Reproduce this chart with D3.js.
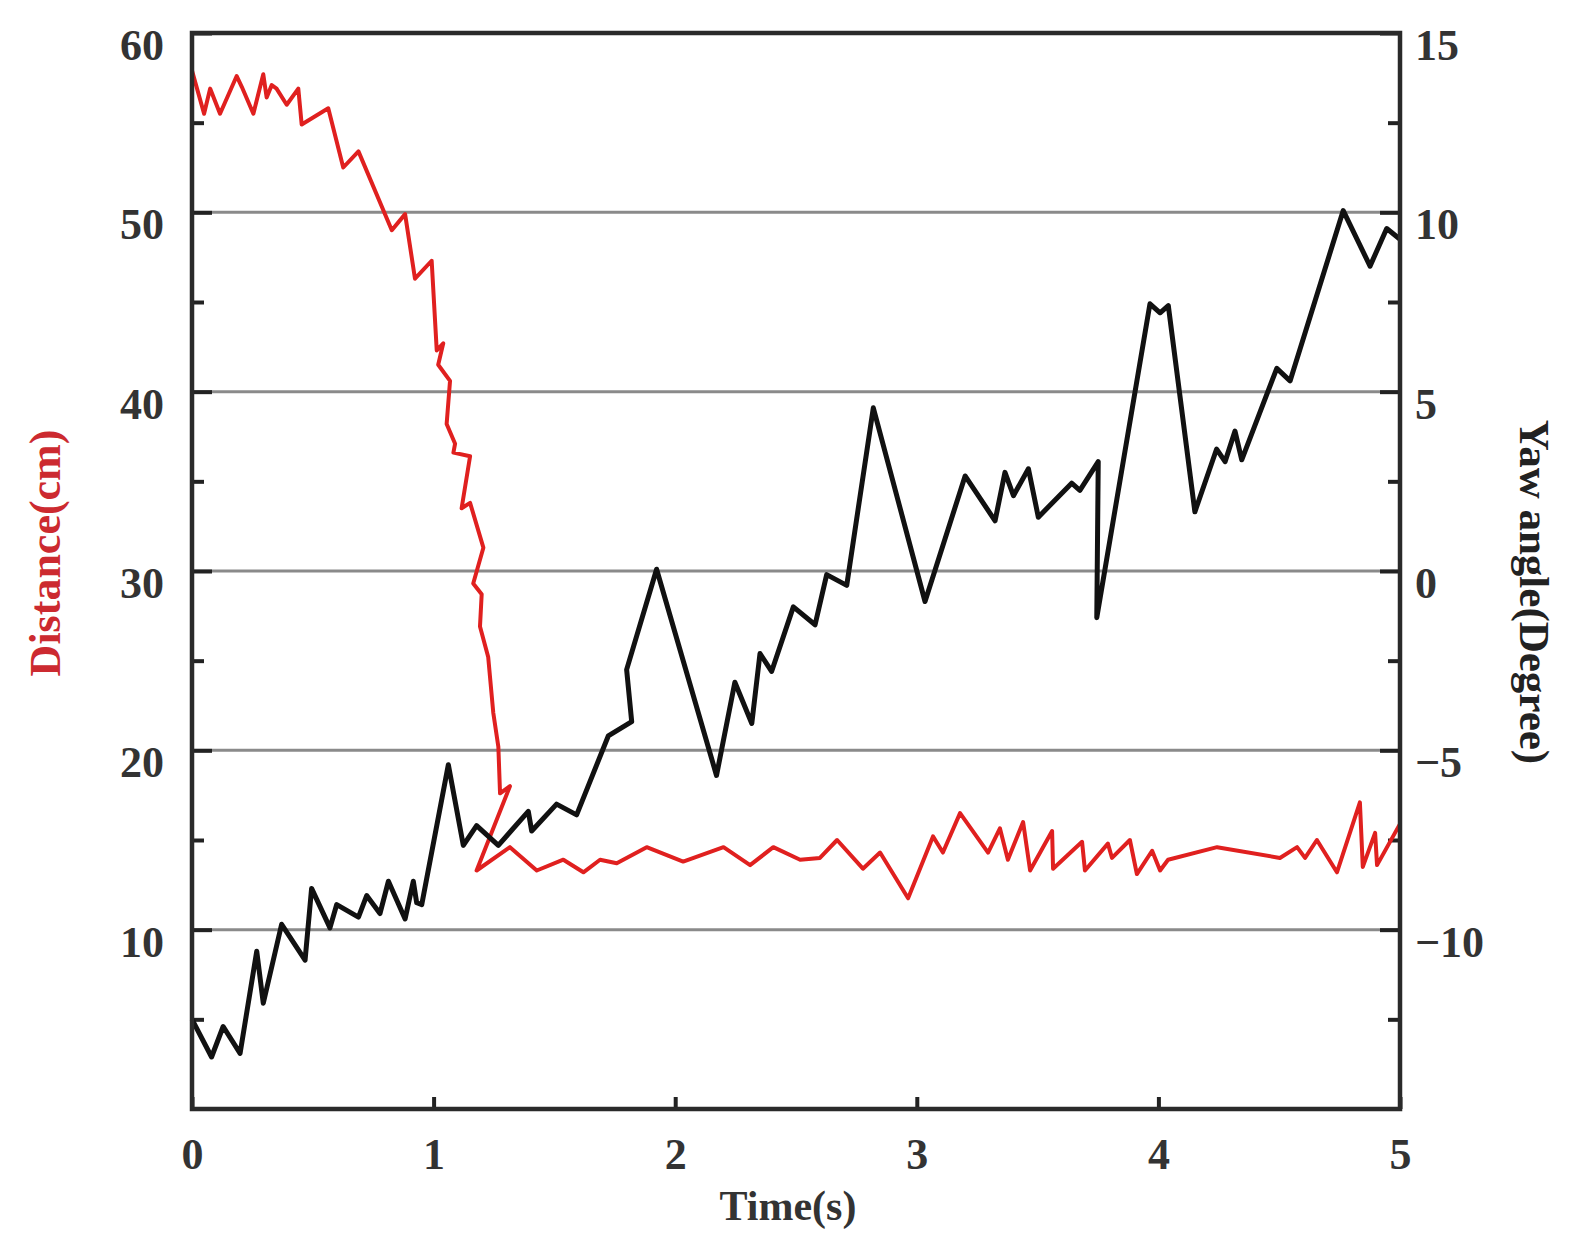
<!DOCTYPE html>
<html>
<head>
<meta charset="utf-8">
<title>Distance and yaw angle</title>
<script src="https://d3js.org/d3.v7.min.js"></script>
<style>
  body { margin: 0; background: #fff; }
  text { font-family: "Liberation Serif", "Times New Roman", serif; font-weight: bold; }
</style>
</head>
<body>
<div id="chart"></div>
<script>
// distance series (left axis, red)
const distTime = [0, 0.05, 0.075, 0.116, 0.185, 0.206, 0.254, 0.295, 0.309, 0.33, 0.35, 0.392, 0.44, 0.454,
  0.564, 0.626, 0.689, 0.827, 0.882, 0.923, 0.992, 1.013, 1.04, 1.019, 1.068, 1.054, 1.089, 1.082, 1.151,
  1.116, 1.151, 1.206, 1.164, 1.199, 1.192, 1.226, 1.247, 1.268, 1.275, 1.316, 1.178, 1.316, 1.427, 1.537,
  1.62, 1.689, 1.758, 1.882, 2.033, 2.2, 2.31, 2.406, 2.517, 2.599, 2.67, 2.777, 2.848, 2.964, 3.067, 3.108,
  3.179, 3.295, 3.344, 3.377, 3.44, 3.469, 3.56, 3.564, 3.684, 3.696, 3.791, 3.808, 3.882, 3.911, 3.974,
  4.007, 4.04, 4.243, 4.503, 4.574, 4.607, 4.656, 4.739, 4.834, 4.846, 4.897, 4.905, 5.0];
const distValue = [57.9, 55.5, 56.9, 55.5, 57.6, 57.0, 55.5, 57.7, 56.4, 57.1, 56.9, 56.0, 56.9, 54.9,
  55.8, 52.5, 53.4, 49.0, 49.9, 46.3, 47.3, 42.3, 42.7, 41.5, 40.6, 38.2, 37.1, 36.6, 36.4,
  33.5, 33.8, 31.3, 29.3, 28.7, 26.9, 25.2, 22.1, 20.2, 17.6, 18.0, 13.3, 14.6, 13.3, 13.9,
  13.2, 13.9, 13.7, 14.6, 13.8, 14.6, 13.6, 14.6, 13.9, 14.0, 15.0, 13.4, 14.3, 11.75, 15.2, 14.3,
  16.5, 14.3, 15.65, 13.9, 16.0, 13.3, 15.5, 13.4, 14.9, 13.3, 14.8, 14.0, 15.0, 13.1, 14.4,
  13.3, 13.9, 14.6, 14.0, 14.6, 14.0, 15.0, 13.2, 17.1, 13.5, 15.4, 13.6, 15.9];

// yaw angle series (right axis, black)
const yawTime = [0, 0.081, 0.129, 0.199, 0.268, 0.295, 0.371, 0.468, 0.495, 0.571, 0.599, 0.689, 0.723,
  0.778, 0.813, 0.882, 0.916, 0.93, 0.951, 1.061, 1.123, 1.178, 1.268, 1.392, 1.406, 1.509, 1.592, 1.723,
  1.82, 1.799, 1.923, 2.171, 2.247, 2.317, 2.351, 2.399, 2.489, 2.579, 2.627, 2.71, 2.82, 3.034, 3.2,
  3.324, 3.365, 3.4, 3.462, 3.503, 3.641, 3.675, 3.751, 3.745, 3.965, 4.007, 4.041, 4.151, 4.241, 4.276,
  4.317, 4.345, 4.49, 4.545, 4.765, 4.876, 4.945, 5.0];
const yawValue = [-12.5, -13.55, -12.7, -13.45, -10.6, -12.05, -9.85, -10.85, -8.85, -9.95, -9.3, -9.65, -9.05,
  -9.55, -8.65, -9.7, -8.65, -9.25, -9.3, -5.4, -7.65, -7.1, -7.65, -6.7, -7.25, -6.5, -6.8, -4.6,
  -4.2, -2.75, 0.05, -5.7, -3.1, -4.25, -2.3, -2.8, -1.0, -1.5, -0.1, -0.4, 4.55, -0.85, 2.65,
  1.4, 2.75, 2.1, 2.85, 1.5, 2.45, 2.25, 3.05, -1.3, 7.45, 7.2, 7.4, 1.65, 3.4, 3.05,
  3.9, 3.1, 5.65, 5.3, 10.05, 8.5, 9.55, 9.25];

const xTicks = [0, 1, 2, 3, 4, 5];
const distTicks = [10, 20, 30, 40, 50, 60];
const distMinor = [5, 15, 25, 35, 45, 55];
const yawTicks = [-10, -5, 0, 5, 10, 15];
const yawMinor = [-12.5, -7.5, -2.5, 2.5, 7.5, 12.5];
const gridValues = [10, 20, 30, 40, 50];

const W = 1574, H = 1256;
const margin = {top: 33, right: 174, bottom: 147, left: 192};
const w = W - margin.left - margin.right;
const h = H - margin.top - margin.bottom;

const root = d3.select("#chart").append("svg")
    .attr("width", W)
    .attr("height", H);

const svg = root.append("g")
    .attr("transform", "translate(" + margin.left + "," + margin.top + ")");

const x = d3.scaleLinear().domain([0, 5]).range([0, w]);
const yL = d3.scaleLinear().domain([0, 60]).range([h, 0]);
const yR = d3.scaleLinear().domain([-15, 15]).range([h, 0]);

// grid lines
svg.selectAll(".grid")
    .data(gridValues)
    .enter()
    .append("line")
    .attr("x1", 0)
    .attr("x2", w)
    .attr("y1", d => yL(d))
    .attr("y2", d => yL(d))
    .attr("stroke", "#8a8a8a")
    .attr("stroke-width", 3);

function styleAxis(g, labelDy) {
    g.select(".domain").remove();
    g.selectAll("line").attr("stroke", "#222").attr("stroke-width", 4);
    g.selectAll("text")
        .attr("font-size", "44px")
        .attr("fill", "#333")
        .attr("dy", labelDy);
}

// left axis
svg.append("g")
    .call(d3.axisLeft(yL).tickValues(distMinor).tickSize(-12).tickFormat(""))
    .call(g => styleAxis(g, null));
svg.append("g")
    .call(d3.axisLeft(yL).tickValues(distTicks).tickSizeInner(-20).tickSizeOuter(0).tickPadding(28))
    .call(g => styleAxis(g, "0.6em"));

// right axis
svg.append("g")
    .attr("transform", "translate(" + w + ",0)")
    .call(d3.axisRight(yR).tickValues(yawMinor).tickSize(-12).tickFormat(""))
    .call(g => styleAxis(g, null));
svg.append("g")
    .attr("transform", "translate(" + w + ",0)")
    .call(d3.axisRight(yR).tickValues(yawTicks).tickSizeInner(-20).tickSizeOuter(0).tickPadding(15))
    .call(g => styleAxis(g, "0.6em"));

// bottom axis
svg.append("g")
    .attr("transform", "translate(0," + h + ")")
    .call(d3.axisBottom(x).tickValues(xTicks).tickFormat(d3.format("d"))
        .tickSizeInner(-12).tickSizeOuter(0).tickPadding(29))
    .call(g => styleAxis(g, "0.71em"));

// lines
const distData = distTime.map((t, i) => ({t: t, v: distValue[i]}));
const yawData = yawTime.map((t, i) => ({t: t, v: yawValue[i]}));

svg.append("path")
    .datum(distData)
    .attr("fill", "none")
    .attr("stroke", "#e0201f")
    .attr("stroke-width", 4)
    .attr("stroke-linejoin", "round")
    .attr("d", d3.line().x(d => x(d.t)).y(d => yL(d.v)));

svg.append("path")
    .datum(yawData)
    .attr("fill", "none")
    .attr("stroke", "#111")
    .attr("stroke-width", 5)
    .attr("stroke-linejoin", "round")
    .attr("d", d3.line().x(d => x(d.t)).y(d => yR(d.v)));

// frame
svg.append("rect")
    .attr("x", 0)
    .attr("y", 0)
    .attr("width", w)
    .attr("height", h)
    .attr("fill", "none")
    .attr("stroke", "#2a2a2a")
    .attr("stroke-width", 4.5);

// axis titles
root.append("text")
    .attr("transform", "rotate(-90)")
    .attr("x", -553)
    .attr("y", 60)
    .attr("text-anchor", "middle")
    .attr("font-size", "44px")
    .attr("fill", "#cc2a30")
    .text("Distance(cm)");

root.append("text")
    .attr("transform", "translate(1520,592) rotate(90)")
    .attr("text-anchor", "middle")
    .attr("font-size", "43px")
    .attr("fill", "#222")
    .text("Yaw angle(Degree)");

root.append("text")
    .attr("x", 788)
    .attr("y", 1220)
    .attr("text-anchor", "middle")
    .attr("font-size", "42px")
    .attr("fill", "#333")
    .text("Time(s)");
</script>
</body>
</html>
